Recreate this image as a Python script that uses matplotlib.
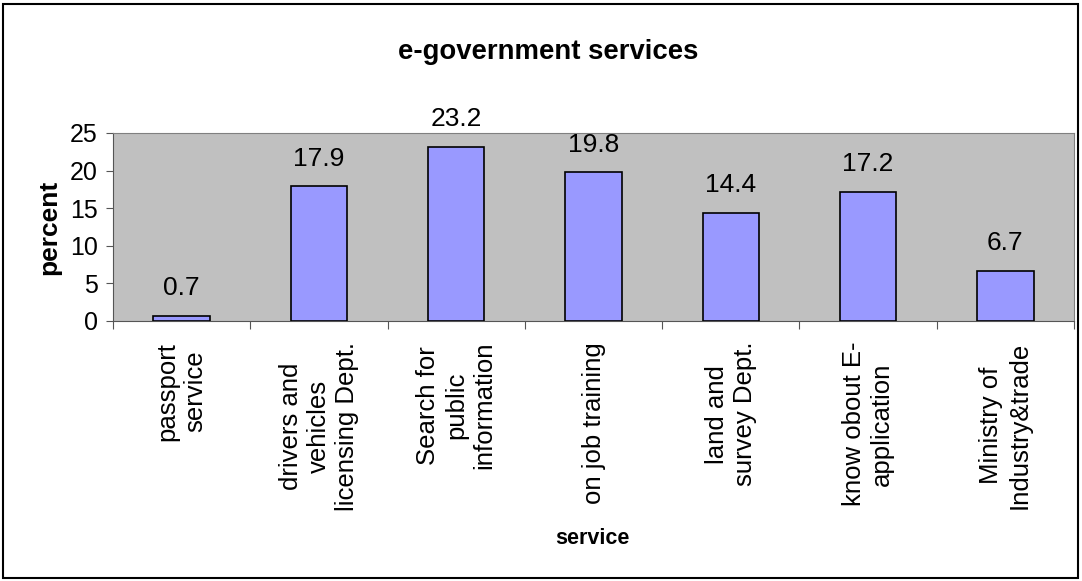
import matplotlib.pyplot as plt
import numpy as np

plt.rcParams['font.family'] = ['Liberation Sans', 'DejaVu Sans']

services = ["passport\nservice", "drivers and\nvehicles\nlicensing Dept.",
            "Search for\npublic\ninformation", "on job training",
            "land and\nsurvey Dept.", "know obout E-\napplication",
            "Ministry of\nIndustry&trade"]
percent = [0.7, 17.9, 23.2, 19.8, 14.4, 17.2, 6.7]


def main():
    fig = plt.figure(figsize=(10.82, 5.81), dpi=100)
    ax = fig.add_axes([113 / 1082, 1 - 321 / 581, (1074 - 113) / 1082, (321 - 133) / 581])

    x = np.arange(len(services))
    ax.bar(x, percent, width=0.41, color="#9999FF", edgecolor="black", linewidth=1.2, zorder=3)
    for xi, v in zip(x, percent):
        ax.annotate(f"{v}", (xi, v), xytext=(0, 11), textcoords="offset points",
                    ha="center", va="bottom", fontsize=19)

    ax.set_facecolor("#C0C0C0")
    ax.set_xlim(-0.5, len(services) - 0.5)
    ax.set_ylim(0, 25)
    ax.set_yticks(range(0, 26, 5))
    ax.tick_params(axis="y", labelsize=18, length=5, color="#555555", pad=6)

    # ticks between categories, labels centred under bars
    ax.set_xticks(np.arange(-0.5, len(services), 1.0))
    ax.set_xticklabels([])
    ax.set_xticks(x, minor=True)
    ax.set_xticklabels(services, minor=True, rotation=90, fontsize=18.5,
                       ha="center", va="top", multialignment="center", linespacing=1.2)
    ax.tick_params(axis="x", which="major", length=6, color="#555555")
    ax.tick_params(axis="x", which="minor", length=0, pad=15)

    for side in ["top", "right"]:
        ax.spines[side].set_color("#808080")
    for side in ["left", "bottom"]:
        ax.spines[side].set_color("#555555")

    ax.set_ylabel("percent", fontsize=19, fontweight="bold", labelpad=6)
    fig.text(592 / 1082, 1 - 539 / 581, "service", fontsize=15.5, fontweight="bold",
             ha="center", va="center")
    fig.text(548 / 1082, 1 - 52 / 581, "e-government services", fontsize=19.8,
             fontweight="bold", ha="center", va="center")

    # black frame around the whole chart
    fig.patches.append(plt.Rectangle((3 / 1082, 3 / 581), 1 - 7 / 1082, 1 - 7 / 581,
                                     transform=fig.transFigure, fill=False,
                                     edgecolor="black", linewidth=1.5))

    fig.savefig("out.png", dpi=100)


if __name__ == "__main__":
    main()
